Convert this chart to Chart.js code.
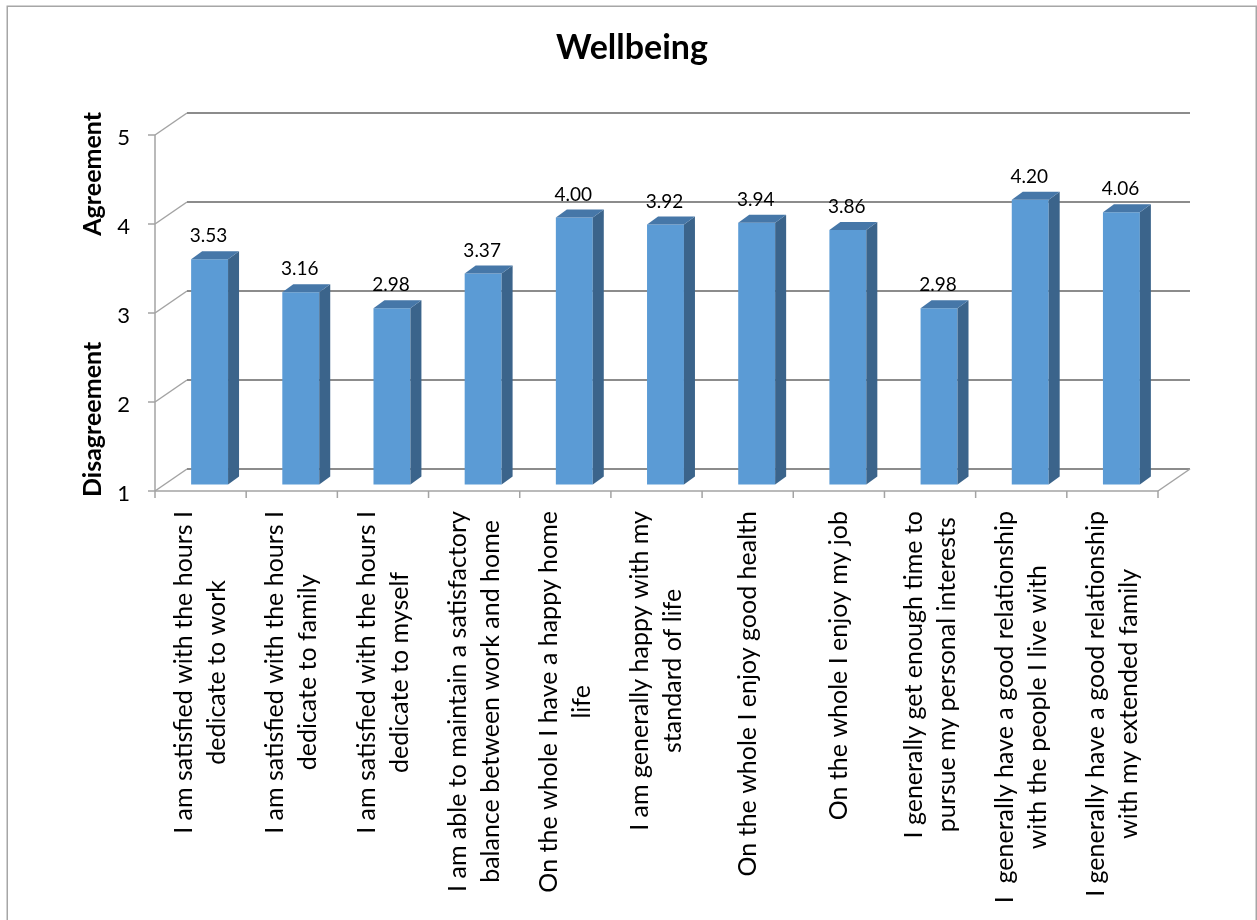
<!DOCTYPE html>
<html>
<head>
<meta charset="utf-8">
<title>Wellbeing</title>
<script src="https://cdn.jsdelivr.net/npm/chart.js@4/dist/chart.umd.min.js"></script>
<style>
  html, body { margin: 0; padding: 0; background: #ffffff; }
  #wrap { width: 1257px; height: 920px; }
</style>
</head>
<body>
<div id="wrap"><canvas id="chart" width="1257" height="920"></canvas></div>
<script>
// Survey statements (wrapped into lines as printed under the axis)
const categories = [
  ['I am satisfied with the hours I', 'dedicate to work'],
  ['I am satisfied with the hours I', 'dedicate to family'],
  ['I am satisfied with the hours I', 'dedicate to myself'],
  ['I am able to maintain a satisfactory', 'balance between work and home'],
  ['On the whole I have a happy home', 'life'],
  ['I am generally happy with my', 'standard of life'],
  ['On the whole I enjoy good health'],
  ['On the whole I enjoy my job'],
  ['I generally get enough time to', 'pursue my personal interests'],
  ['I  generally have a good relationship', 'with the people I live with'],
  ['I generally have a good relationship', 'with my extended family']
];

// Mean agreement score per statement
const scores = [3.53, 3.16, 2.98, 3.37, 4.00, 3.92, 3.94, 3.86, 2.98, 4.20, 4.06];

// Value axis
const yTicks = [1, 2, 3, 4, 5];
const chartTitle = 'Wellbeing';
const axisTitleLow = 'Disagreement';
const axisTitleHigh = 'Agreement';

// 3-D look: back wall offset, bar depth placement, bar depth
const WALL = { dx: 32, dy: -22 };
const BAR_SHIFT = { dx: 9, dy: -6.5 };
const BAR_DEPTH = { dx: 11, dy: -8 };

const COLORS = {
  front: '#5B9BD5',
  side: '#3B648B',
  top: '#4677A8',
  grid: '#8C8C8C',
  axis: '#A3A3A3',
  text: '#000000'
};

const FONT = 'Lato, "Open Sans", sans-serif';

function seg(ctx, x1, y1, x2, y2) {
  ctx.beginPath();
  ctx.moveTo(x1, y1);
  ctx.lineTo(x2, y2);
  ctx.stroke();
}

function poly(ctx, pts) {
  ctx.beginPath();
  ctx.moveTo(pts[0], pts[1]);
  for (let i = 2; i < pts.length; i += 2) ctx.lineTo(pts[i], pts[i + 1]);
  ctx.closePath();
  ctx.fill();
}

const frame3d = {
  id: 'frame3d',
  beforeDraw(chart) {
    const { ctx, chartArea: a, scales: { y } } = chart;
    ctx.save();
    ctx.fillStyle = '#ffffff';
    ctx.fillRect(0, 0, chart.width, chart.height);

    // outer frame
    ctx.strokeStyle = '#A6A6A6';
    ctx.lineWidth = 1.5;
    ctx.strokeRect(7.25, 6.25, 1249, 940);

    // back wall gridlines with their floor-side diagonals
    yTicks.forEach(v => {
      const py = y.getPixelForValue(v);
      ctx.strokeStyle = COLORS.axis;
      ctx.lineWidth = 1.5;
      seg(ctx, a.left, py, a.left + WALL.dx, py + WALL.dy);
      ctx.strokeStyle = COLORS.grid;
      ctx.lineWidth = 2;
      seg(ctx, a.left + WALL.dx, py + WALL.dy, a.right + WALL.dx, py + WALL.dy);
    });

    // floor right edge
    ctx.strokeStyle = COLORS.axis;
    ctx.lineWidth = 1.5;
    seg(ctx, a.right, a.bottom, a.right + WALL.dx, a.bottom + WALL.dy);

    // front value axis and its tick marks
    seg(ctx, a.left, a.top, a.left, a.bottom);
    yTicks.forEach(v => {
      const py = y.getPixelForValue(v);
      seg(ctx, a.left - 7, py, a.left, py);
    });

    // front category axis and boundary tick marks
    seg(ctx, a.left, a.bottom, a.right, a.bottom);
    const step = (a.right - a.left) / categories.length;
    for (let i = 0; i <= categories.length; i++) {
      const px = a.left + i * step;
      seg(ctx, px, a.bottom, px, a.bottom + 7);
    }
    ctx.restore();
  },
  beforeDatasetsDraw(chart) {
    chart.ctx.save();
    chart.ctx.translate(BAR_SHIFT.dx, BAR_SHIFT.dy);
  },
  afterDatasetsDraw(chart) {
    const ctx = chart.ctx;
    const meta = chart.getDatasetMeta(0);
    meta.data.forEach((bar, i) => {
      const { x, y, base, width } = bar.getProps(['x', 'y', 'base', 'width'], true);
      const l = x - width / 2;
      const r = x + width / 2;
      ctx.fillStyle = COLORS.side;
      poly(ctx, [r, y, r + BAR_DEPTH.dx, y + BAR_DEPTH.dy, r + BAR_DEPTH.dx, base + BAR_DEPTH.dy, r, base]);
      ctx.fillStyle = COLORS.top;
      poly(ctx, [l, y, r, y, r + BAR_DEPTH.dx, y + BAR_DEPTH.dy, l + BAR_DEPTH.dx, y + BAR_DEPTH.dy]);

      // value label above the bar
      ctx.fillStyle = COLORS.text;
      ctx.font = '19px ' + FONT;
      ctx.textAlign = 'center';
      ctx.textBaseline = 'alphabetic';
      ctx.fillText(scores[i].toFixed(2), x - 1, y - 17);
    });
    ctx.restore();
  },
  afterDraw(chart) {
    const { ctx, chartArea: a, scales: { x } } = chart;
    ctx.save();
    ctx.fillStyle = COLORS.text;

    // title
    ctx.font = 'bold 34px ' + FONT;
    ctx.textAlign = 'center';
    ctx.textBaseline = 'alphabetic';
    ctx.fillText(chartTitle, 632, 59);

    // rotated category labels, lines centred on each other
    ctx.font = '25px ' + FONT;
    const lineGap = 33;
    categories.forEach((lines, i) => {
      const cx = x.getPixelForValue(i);
      const maxW = Math.max(...lines.map(t => ctx.measureText(t).width));
      ctx.save();
      ctx.translate(cx, a.bottom + 20);
      ctx.rotate(-Math.PI / 2);
      ctx.textAlign = 'center';
      ctx.textBaseline = 'middle';
      lines.forEach((t, j) => {
        ctx.fillText(t, -maxW / 2, (j - (lines.length - 1) / 2) * lineGap);
      });
      ctx.restore();
    });

    // value axis titles
    ctx.font = 'bold 25px ' + FONT;
    ctx.textBaseline = 'alphabetic';
    ctx.save();
    ctx.translate(101, a.bottom + 6);
    ctx.rotate(-Math.PI / 2);
    ctx.textAlign = 'left';
    ctx.fillText(axisTitleLow, 0, 0);
    ctx.restore();
    ctx.save();
    ctx.translate(101, a.top - 23);
    ctx.rotate(-Math.PI / 2);
    ctx.textAlign = 'right';
    ctx.fillText(axisTitleHigh, 0, 0);
    ctx.restore();

    ctx.restore();
  }
};

new Chart(document.getElementById('chart'), {
  type: 'bar',
  data: {
    labels: categories,
    datasets: [{
      data: scores,
      base: yTicks[0],
      backgroundColor: COLORS.front,
      borderWidth: 0,
      barPercentage: 0.405,
      categoryPercentage: 1,
      clip: false
    }]
  },
  options: {
    responsive: false,
    animation: false,
    devicePixelRatio: 1,
    layout: { padding: { left: 0, top: 135, right: 99, bottom: 429 } },
    plugins: {
      legend: { display: false },
      title: { display: false },
      tooltip: { enabled: false }
    },
    scales: {
      x: { display: false, offset: true },
      y: {
        min: 1,
        max: 5,
        afterFit(scale) { scale.width = 155; },
        afterBuildTicks(scale) { scale.ticks = yTicks.map(v => ({ value: v })); },
        ticks: {
          padding: 25,
          labelOffset: 3,
          color: COLORS.text,
          font: { family: FONT, size: 22 }
        },
        grid: { display: false, drawTicks: false },
        border: { display: false }
      }
    }
  },
  plugins: [frame3d]
});
</script>
</body>
</html>
